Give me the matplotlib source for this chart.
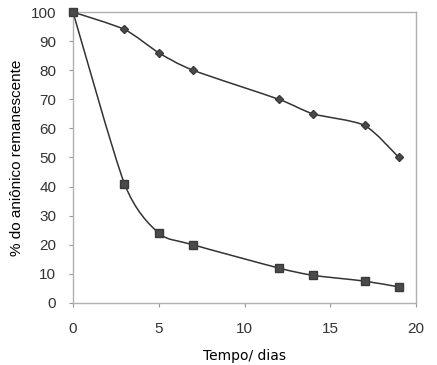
import numpy as np
import matplotlib.pyplot as plt
from matplotlib.path import Path
from matplotlib.patches import PathPatch

dias = [0, 3, 5, 7, 12, 14, 17, 19]
serie_losango = [100, 94, 86, 80, 70, 65, 61, 50]
serie_quadrado = [100, 41, 24, 20, 12, 9.5, 7.5, 5.5]


def smooth_path(x, y, k=8.0):
    # Excel-like smoothed line: cubic Bezier segments with Catmull-Rom-ish tangents
    pts = np.column_stack([np.asarray(x, float), np.asarray(y, float)])
    n = len(pts)
    verts = [pts[0]]
    codes = [Path.MOVETO]
    for i in range(n - 1):
        p0 = pts[max(i - 1, 0)]
        p1 = pts[i]
        p2 = pts[i + 1]
        p3 = pts[min(i + 2, n - 1)]
        verts += [p1 + (p2 - p0) / k, p2 - (p3 - p1) / k, p2]
        codes += [Path.CURVE4] * 3
    return Path(verts, codes)


plt.rcParams['font.family'] = ['Liberation Sans', 'DejaVu Sans']

fig = plt.figure(figsize=(4.37, 3.65), dpi=100)
ax = fig.add_axes([0.167, 0.170, 0.785, 0.797])

for yy, mk, ms in [(serie_losango, 'D', 4.2), (serie_quadrado, 's', 5.5)]:
    ax.add_patch(PathPatch(smooth_path(dias, yy), facecolor='none',
                           edgecolor='#333333', lw=1.1, zorder=2))
    ax.plot(dias, yy, linestyle='none', marker=mk, ms=ms, clip_on=False,
            color='#4a4a4a', markeredgecolor='#3a3a3a', zorder=3)

ax.set_xlim(0, 20)
ax.set_ylim(0, 100)
ax.set_xticks(range(0, 21, 5))
ax.set_yticks(range(0, 101, 10))
ax.tick_params(labelsize=11, labelcolor='#333333', color='#999999',
               length=3, width=0.8)
ax.tick_params(axis='x', pad=11)
ax.tick_params(axis='y', pad=9)
for s in ax.spines.values():
    s.set_color('#b0b0b0')
    s.set_linewidth(1)

ax.set_xlabel('Tempo/ dias', fontsize=10, family='DejaVu Sans', labelpad=9)
ax.set_ylabel('% do aniônico remanescente', fontsize=11, labelpad=5)

fig.savefig('out.png', dpi=100)
